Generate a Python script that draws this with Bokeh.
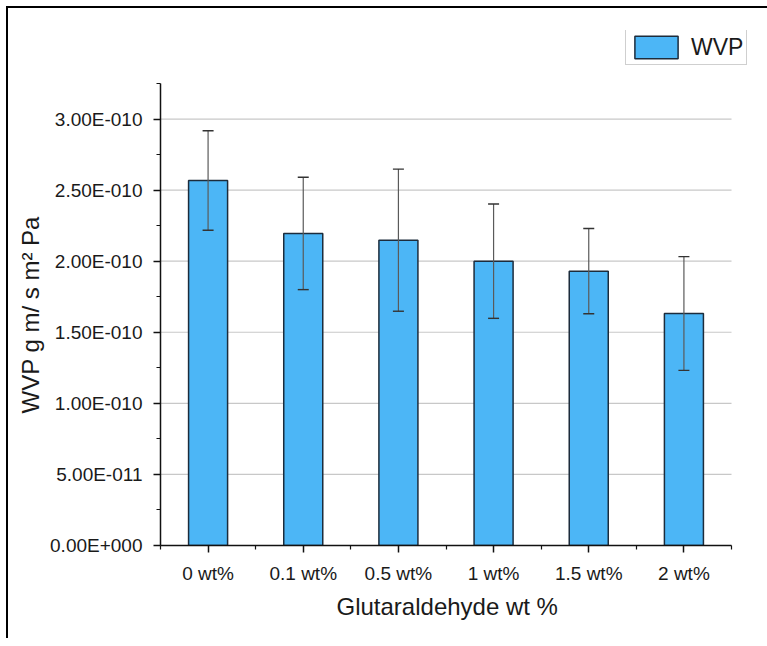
from bokeh.plotting import figure
from bokeh.models import (ColumnDataSource, Range1d, FixedTicker, CustomJSTickFormatter,
                          Whisker, TeeHead, Legend, LegendItem, Title)
from bokeh.embed import file_html
from bokeh.resources import INLINE

# ---- data ----
categories = ["0 wt%", "0.1 wt%", "0.5 wt%", "1 wt%", "1.5 wt%", "2 wt%"]
wvp = [2.568e-10, 2.195e-10, 2.148e-10, 2.000e-10, 1.930e-10, 1.632e-10]
wvp_err = [0.350e-10, 0.395e-10, 0.500e-10, 0.402e-10, 0.300e-10, 0.400e-10]
y_major_ticks = [0.0, 0.5e-10, 1.0e-10, 1.5e-10, 2.0e-10, 2.5e-10, 3.0e-10]
y_minor_ticks = [0.25e-10 * i for i in range(14)]
y_max = 3.25e-10
x_label = "Glutaraldehyde wt %"
y_label = "WVP g m/ s m\u00b2 Pa"
series_name = "WVP"

FONT = "Liberation Sans"

# layout (pixels): axes box 571 x 462; frame extended up/right to hold the legend
AX_W, AX_H = 571, 462
FR_W, FR_H = 588, 515

n = len(categories)
xs = list(range(1, n + 1))
x_lo, x_hi = 0.5, n + 0.5
src = ColumnDataSource(dict(
    x=xs,
    top=wvp,
    upper=[v + e for v, e in zip(wvp, wvp_err)],
    lower=[v - e for v, e in zip(wvp, wvp_err)],
))
grid_src = ColumnDataSource(dict(
    x0=[x_lo] * len(y_major_ticks), x1=[x_hi] * len(y_major_ticks), y=y_major_ticks))

p = figure(frame_width=FR_W, frame_height=FR_H,
           x_range=Range1d(x_lo, x_lo + (x_hi - x_lo) * FR_W / AX_W),
           y_range=Range1d(0, y_max * FR_H / AX_H),
           output_backend="svg", toolbar_location=None,
           min_border_left=152, min_border_top=22,
           min_border_right=19, min_border_bottom=93)
p.styles = {"border-top": "2px solid #000", "border-left": "2px solid #000",
            "margin-top": "6px", "margin-left": "6px"}
p.outline_line_color = None
p.background_fill_color = "white"
p.xgrid.visible = False
p.ygrid.visible = False

p.segment(x0="x0", x1="x1", y0="y", y1="y", source=grid_src,
          line_color="#c8c8c8", line_width=1.2)

bars = p.vbar(x="x", top="top", width=0.41, bottom=0, source=src,
              fill_color="#4cb6f6", line_color="#1c2c3c", line_width=1.5)

whisk = Whisker(base="x", upper="upper", lower="lower", source=src,
                line_color="#5a5a5a", line_width=1.2, level="overlay",
                upper_head=TeeHead(size=11, line_color="#333333", line_width=1.4),
                lower_head=TeeHead(size=11, line_color="#333333", line_width=1.4))
p.add_layout(whisk)

# x axis
p.xaxis.ticker = FixedTicker(ticks=xs, minor_ticks=[x - 0.5 for x in xs] + [xs[-1] + 0.5])
p.xaxis.major_label_overrides = {x: c for x, c in zip(xs, categories)}
p.xaxis.bounds = (x_lo, x_hi)
# y axis
p.yaxis.ticker = FixedTicker(ticks=y_major_ticks, minor_ticks=y_minor_ticks)
p.yaxis.formatter = CustomJSTickFormatter(code="""
if (Math.abs(tick) < 1e-30) return "0.00E+000";
const e = Math.floor(Math.log10(Math.abs(tick)) + 1e-9);
const m = tick / Math.pow(10, e);
const s = e < 0 ? "-" : "+";
return m.toFixed(2) + "E" + s + String(Math.abs(e)).padStart(3, "0");
""")
p.yaxis.bounds = (0, y_max)

for ax in (p.xaxis[0], p.yaxis[0]):
    ax.axis_line_color = "#111111"
    ax.axis_line_width = 1.5
    ax.major_tick_line_color = "#111111"
    ax.minor_tick_line_color = "#111111"
    ax.major_tick_line_width = 1.5
    ax.minor_tick_line_width = 1.2
    ax.major_tick_in = 0
    ax.major_tick_out = 7
    ax.minor_tick_in = 0
    ax.minor_tick_out = 4
    ax.major_label_text_font = FONT
    ax.major_label_text_font_size = "19px"
    ax.major_label_text_color = "#1a1a1a"

p.xaxis.major_label_standoff = 10
p.yaxis.major_label_standoff = 11

# axis titles, positioned along the axes box (not the extended frame)
ytitle = Title(text=y_label, align="left", offset=132, standoff=8,
               text_font=FONT, text_font_size="24px", text_font_style="normal",
               text_color="#1a1a1a")
p.add_layout(ytitle, "left")
xtitle = Title(text=x_label, align="left", offset=176, standoff=8,
               text_font=FONT, text_font_size="24px", text_font_style="normal",
               text_color="#1a1a1a")
p.add_layout(xtitle, "below")

legend = Legend(items=[LegendItem(label=series_name, renderers=[bars])],
                location=(465, 480), orientation="vertical",
                border_line_color="#a0a0a0", border_line_width=1,
                background_fill_color="white", background_fill_alpha=1,
                padding=3, margin=0, spacing=0,
                glyph_width=54, glyph_height=28, label_standoff=8,
                label_text_font=FONT, label_text_font_size="23px",
                label_text_color="#1a1a1a")
p.add_layout(legend)

open("out.html", "w").write(file_html(p, INLINE))
